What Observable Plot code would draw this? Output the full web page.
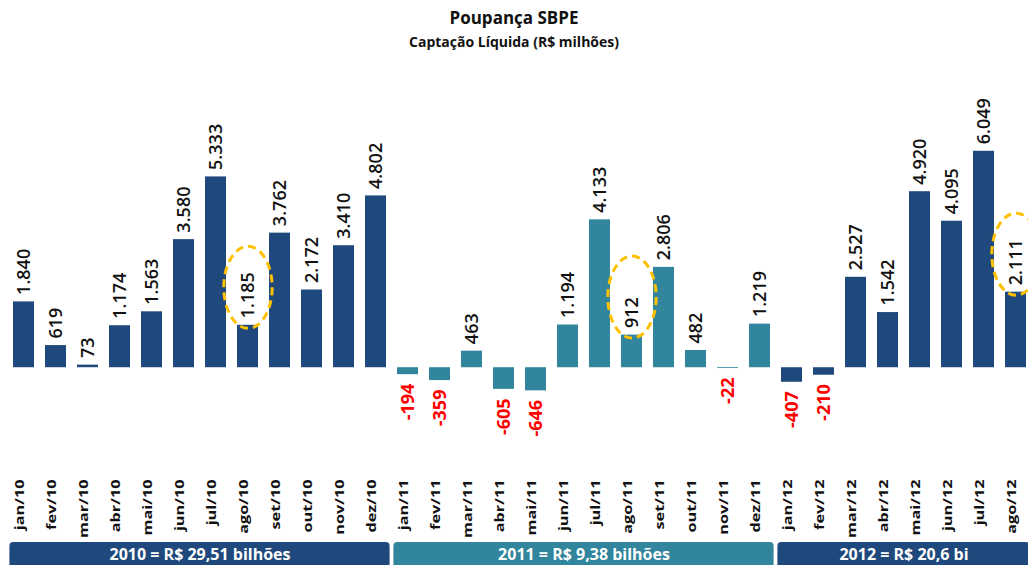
<!DOCTYPE html>
<html><head><meta charset="utf-8">
<script src="https://cdn.jsdelivr.net/npm/d3@7"></script>
<script src="https://cdn.jsdelivr.net/npm/@observablehq/plot@0.6"></script>
<style>
body{margin:0;background:#fff;}
#wrap{position:relative;width:1028px;height:565px;overflow:hidden;font-family:"Open Sans",sans-serif;color:#111;}
#t1{position:absolute;top:6px;left:0;width:1028px;text-align:center;font-weight:700;font-size:17px;line-height:24px;}
#t2{position:absolute;top:32px;left:0;width:1028px;text-align:center;font-weight:700;font-size:14px;line-height:20px;}
#chart{position:absolute;top:60px;left:0;}
</style></head>
<body><div id="wrap"><div id="t1">Poupança SBPE</div><div id="t2">Captação Líquida (R$ milhões)</div><div id="chart"></div></div>
<script>
const months = ["jan/10","fev/10","mar/10","abr/10","mai/10","jun/10","jul/10","ago/10","set/10","out/10","nov/10","dez/10",
  "jan/11","fev/11","mar/11","abr/11","mai/11","jun/11","jul/11","ago/11","set/11","out/11","nov/11","dez/11",
  "jan/12","fev/12","mar/12","abr/12","mai/12","jun/12","jul/12","ago/12"];
const values = [1840, 619, 73, 1174, 1563, 3580, 5333, 1185, 3762, 2172, 3410, 4802,
  -194, -359, 463, -605, -646, 1194, 4133, 912, 2806, 482, -22, 1219,
  -407, -210, 2527, 1542, 4920, 4095, 6049, 2111];
const years = ["2010", "2011", "2012"];
const yearColors = ["#1F497D", "#31859C", "#1F497D"];
const yearTotals = ["2010 = R$ 29,51 bilhões", "2011 = R$ 9,38 bilhões", "2012 = R$ 20,6 bi"];
const highlightMonth = "ago";

const fmt = d3.formatLocale({decimal: ",", thousands: ".", grouping: [3], currency: ["R$", ""], minus: "-"}).format(",d");
const data = months.map((m, i) => ({month: m, value: values[i], year: "20" + m.slice(-2)}));
const yearBands = years.map((y, i) => {
  const ms = data.filter(d => d.year === y);
  return {year: y, label: yearTotals[i], first: ms[0].month, last: ms[ms.length - 1].month, mid: ms[Math.floor((ms.length - 1) / 2)].month};
});

const ellipse = {
  draw(ctx, size) {
    const ry = Math.sqrt(size / Math.PI), rx = ry * 0.59, k = 0.5523;
    ctx.moveTo(rx, 0);
    ctx.bezierCurveTo(rx, k * ry, k * rx, ry, 0, ry);
    ctx.bezierCurveTo(-k * rx, ry, -rx, k * ry, -rx, 0);
    ctx.bezierCurveTo(-rx, -k * ry, -k * rx, -ry, 0, -ry);
    ctx.bezierCurveTo(k * rx, -ry, rx, -k * ry, rx, 0);
    ctx.closePath();
  }
};

const svg = Plot.plot({
  width: 1028,
  height: 505,
  marginLeft: 6.5,
  marginRight: -4,
  marginTop: 21,
  marginBottom: 162,
  style: {fontFamily: "Open Sans", background: "transparent"},
  x: {type: "band", domain: months, paddingInner: 0.34, paddingOuter: 0.17, axis: null},
  y: {domain: [-1000, 8000], axis: null},
  color: {type: "ordinal", domain: years, range: yearColors},
  marks: [
    Plot.barY(data, {x: "month", y: "value", fill: "year"}),
    Plot.text(data.filter(d => d.value >= 0), {x: "month", y: "value", text: d => fmt(d.value), rotate: -90, textAnchor: "start", dy: -7, fontSize: 18, fontWeight: 600, fill: "#111"}),
    Plot.text(data.filter(d => d.value < 0), {x: "month", y: "value", text: d => fmt(d.value), rotate: -90, textAnchor: "end", dy: 9, fontSize: 18, fontWeight: 700, fill: "#FF0000"}),
    Plot.dot(data.filter(d => d.month.startsWith(highlightMonth)), {x: "month", y: "value", r: 41, symbol: ellipse, dy: -38, stroke: "#FFC000", strokeWidth: 3, strokeDasharray: "8,5", fill: "none"}),
    Plot.text(data, {x: "month", text: "month", frameAnchor: "bottom", rotate: -90, textAnchor: "end", dy: 76, fontSize: 12.5, fontWeight: 700, fill: "#111", className: "mlbl"}),
    Plot.rect(yearBands, {x1: "first", x2: "last", fill: "year", insetLeft: -3.6, insetRight: -3.6, insetTop: 461, insetBottom: -172, rx: 4}),
    Plot.text(yearBands, {x: "mid", text: "label", frameAnchor: "bottom", dx: 16, dy: 156, fill: "white", fontSize: 16, fontWeight: 700})
  ]
});
document.getElementById("chart").append(svg);
svg.querySelectorAll("g.mlbl text").forEach(t => t.setAttribute("transform", (t.getAttribute("transform") || "") + " scale(1.3,1)"));
</script>
</body></html>
